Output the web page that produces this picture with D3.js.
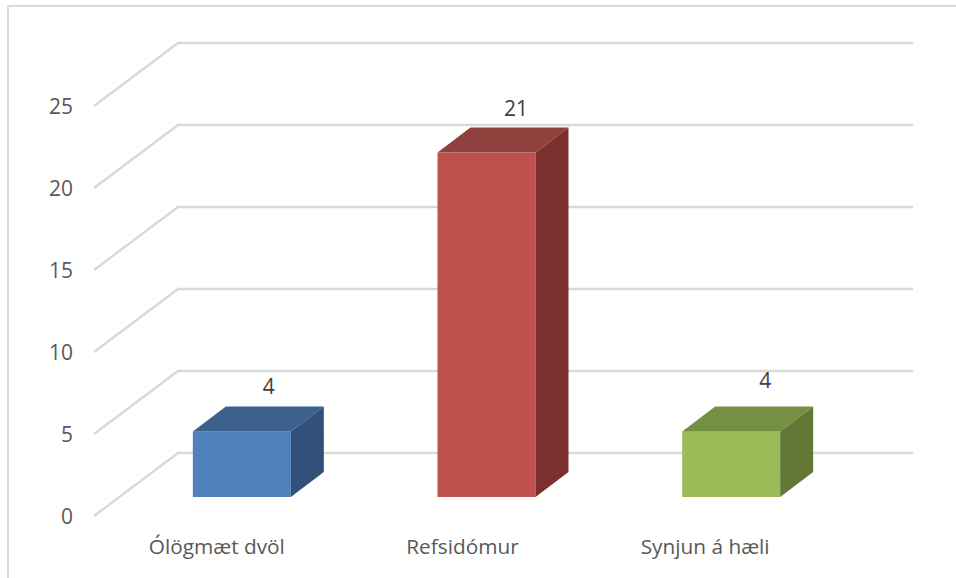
<!DOCTYPE html>
<html>
<head>
    <meta charset="utf-8">
    <script src="https://d3js.org/d3.v7.min.js"></script>
    <style>
        body { margin: 0; background: #fff; }
        text { font-family: "Open Sans", sans-serif; }
    </style>
</head>
<body>
    <svg id="chart" width="956" height="578"></svg>

    <script>
        // Values
        var categories = ["Ólögmæt dvöl", "Refsidómur", "Synjun á hæli"];
        var values = [4, 21, 4];
        var yTicks = [0, 5, 10, 15, 20, 25];
        var frontColors = ["#4f81bd", "#c0504d", "#9bbb59"];
        var topColors = ["#3c618e", "#90403c", "#769043"];
        var sideColors = ["#31507a", "#7b302e", "#637837"];

        var svg = d3.select("#chart");

        // frame
        svg.append("path")
            .attr("d", "M8,578V6H956")
            .attr("fill", "none")
            .attr("stroke", "#d9d9d9")
            .attr("stroke-width", 2);

        // Scales for the front plane of the 3D box
        var y = d3.scaleLinear().domain([0, 25]).range([516, 106]);
        var x = d3.scaleBand().domain(categories).range([94, 828]);

        // depth of the floor and of the bars
        var wallDx = 84, wallDy = -63;
        var barDx = 33, barDy = -25;
        var barShiftX = 25.5, barShiftY = -19;
        var barWidth = 98;

        // gridlines: slanted on the side wall, flat on the back wall
        svg.append("g")
            .selectAll("path")
            .data(yTicks)
            .enter().append("path")
            .attr("d", function (d) {
                return "M94," + y(d) + "L" + (94 + wallDx) + "," + (y(d) + wallDy) + "H913";
            })
            .attr("fill", "none")
            .attr("stroke", "#d9d9d9")
            .attr("stroke-width", 2.4);

        // y axis labels
        svg.append("g")
            .selectAll("text")
            .data(yTicks)
            .enter().append("text")
            .attr("x", 73)
            .attr("y", function (d) { return y(d) + 8; })
            .attr("text-anchor", "end")
            .attr("font-size", 21)
            .attr("fill", "#595959")
            .text(function (d) { return d; });

        // bars
        var bars = svg.append("g")
            .selectAll("g")
            .data(categories)
            .enter().append("g");

        function barLeft(d) {
            return x(d) + x.bandwidth() / 2 + barShiftX - barWidth / 2;
        }
        function barTop(i) { return y(values[i]) + barShiftY; }
        var barBase = y(0) + barShiftY;

        bars.append("rect")
            .attr("x", barLeft)
            .attr("y", function (d, i) { return barTop(i); })
            .attr("width", barWidth)
            .attr("height", function (d, i) { return barBase - barTop(i); })
            .attr("fill", function (d, i) { return frontColors[i]; });

        bars.append("path")
            .attr("d", function (d, i) {
                var l = barLeft(d), t = barTop(i);
                return "M" + l + "," + t + "l" + barDx + "," + barDy + "h" + barWidth + "l" + (-barDx) + "," + (-barDy) + "Z";
            })
            .attr("fill", function (d, i) { return topColors[i]; });

        bars.append("path")
            .attr("d", function (d, i) {
                var r = barLeft(d) + barWidth, t = barTop(i);
                return "M" + r + "," + t + "l" + barDx + "," + barDy + "V" + (barBase + barDy) + "l" + (-barDx) + "," + (-barDy) + "Z";
            })
            .attr("fill", function (d, i) { return sideColors[i]; });

        // data labels were moved by hand in the original, so each has its own nudge
        var labelNudgeX = [27, 29.5, 34];
        var labelNudgeY = [0, 0, -6];
        svg.append("g")
            .selectAll("text")
            .data(categories)
            .enter().append("text")
            .attr("x", function (d, i) { return barLeft(d) + barWidth / 2 + labelNudgeX[i]; })
            .attr("y", function (d, i) { return barTop(i) - 37 + labelNudgeY[i]; })
            .attr("text-anchor", "middle")
            .attr("font-size", 21)
            .attr("fill", "#404040")
            .text(function (d, i) { return values[i]; });

        // category labels
        var categoryNudgeX = [0.5, 1.5, -0.5];
        svg.append("g")
            .selectAll("text")
            .data(categories)
            .enter().append("text")
            .attr("x", function (d, i) { return x(d) + x.bandwidth() / 2 + categoryNudgeX[i]; })
            .attr("y", 554)
            .attr("text-anchor", "middle")
            .attr("font-size", 20.8)
            .attr("fill", "#595959")
            .text(function (d) { return d; });
    </script>
</body>
</html>
